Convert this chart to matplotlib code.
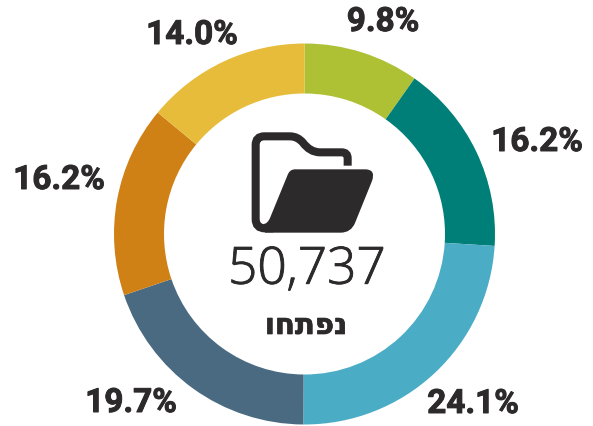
import matplotlib
matplotlib.use('Agg')
import matplotlib.pyplot as plt
import matplotlib.patheffects as pe
from matplotlib.patches import PathPatch
from matplotlib.path import Path

W, H = 593, 427

shares = [9.8, 16.2, 24.1, 19.7, 16.2, 14.0]
colors = ['#AEC135', '#007F78', '#4BACC6', '#4A6A82', '#CF8116', '#E8BC3B']
labels = ['9.8%', '16.2%', '24.1%', '19.7%', '16.2%', '14.0%']
label_xy = [(383, 23), (537, 143), (473, 405), (131, 404), (59, 181), (192, 36)]
total = '50,737'
caption = 'וחתפנ'  # matplotlib has no bidi, so visual order
ink = '#2D2A2B'


def zp(x, y):
    # from the zoomed crop to figure pixels, y going up
    return x / 3 + 210, H - (y / 3 + 120)


def make_path(cmds):
    verts, codes = [], []
    for code, pts in cmds:
        for p in pts:
            verts.append(zp(*p))
            codes.append(code)
    return Path(verts, codes)


def heavier(txt, w):
    txt.set_path_effects([pe.withStroke(linewidth=w, foreground=ink)])


fig = plt.figure(figsize=(W / 100, H / 100), dpi=100)
ax = fig.add_axes([0, 0, 1, 1])

ax.pie(shares, colors=colors, startangle=90, counterclock=False,
       center=(304.5, H - 235), radius=190.5,
       wedgeprops={'width': 50, 'linewidth': 0})
ax.set_xlim(0, W)
ax.set_ylim(0, H)
ax.set_aspect('equal')
ax.axis('off')

for lab, (x, y) in zip(labels, label_xy):
    t = ax.text(x, H - y, lab, ha='center', va='center', fontsize=24,
                fontweight='bold', family='Roboto', color=ink)
    heavier(t, 0.7)

t = ax.text(307, H - 271, total, ha='center', va='center', fontsize=37,
            family='Open Sans', fontweight='light', color=ink)
heavier(t, 0.6)
t = ax.text(306, H - 327, caption, ha='center', va='center', fontsize=21,
            fontweight='bold', family='DejaVu Sans', color=ink)
heavier(t, 0.5)

# folder icon
back = make_path([
    (Path.MOVETO, [(190, 328)]),
    (Path.LINETO, [(165, 328)]),
    (Path.CURVE3, [(137, 328), (137, 300)]),
    (Path.LINETO, [(137, 78)]),
    (Path.CURVE3, [(137, 52), (163, 52)]),
    (Path.LINETO, [(240, 52)]),
    (Path.CURVE3, [(262, 52), (278, 70)]),
    (Path.CURVE3, [(300, 100), (330, 100)]),
    (Path.LINETO, [(395, 100)]),
    (Path.CURVE3, [(413, 100), (413, 118)]),
    (Path.LINETO, [(413, 140)]),
])
ax.add_patch(PathPatch(back, fill=False, edgecolor=ink, linewidth=5.8,
                       capstyle='butt'))
front = make_path([
    (Path.MOVETO, [(255, 151)]),
    (Path.LINETO, [(468, 151)]),
    (Path.CURVE3, [(498, 153), (486, 186)]),
    (Path.LINETO, [(435, 312)]),
    (Path.CURVE3, [(423, 341), (392, 341)]),
    (Path.LINETO, [(165, 341)]),
    (Path.LINETO, [(160, 315)]),
    (Path.CURVE3, [(172, 315), (180, 297)]),
    (Path.LINETO, [(232, 170)]),
    (Path.CURVE3, [(238, 151), (255, 151)]),
    (Path.CLOSEPOLY, [(255, 151)]),
])
ax.add_patch(PathPatch(front, facecolor=ink, edgecolor='none'))

fig.savefig('out.png', dpi=100)
